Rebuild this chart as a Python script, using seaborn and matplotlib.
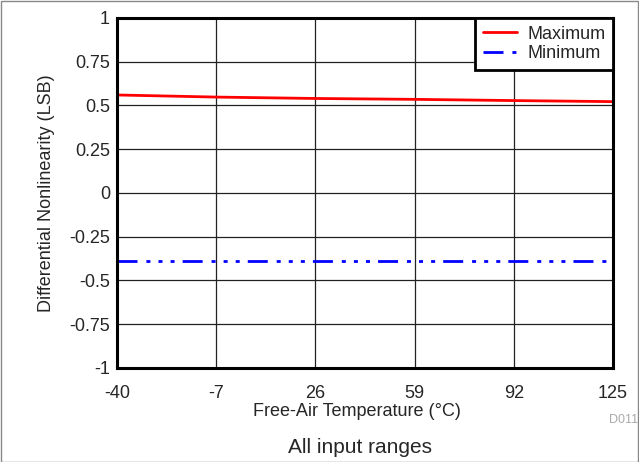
import numpy as np
import pandas as pd
import matplotlib
matplotlib.use('Agg')
import matplotlib.pyplot as plt
import seaborn as sns

# Data
temperature = [-40, -7, 26, 59, 92, 125]
dnl_max = [0.560, 0.548, 0.540, 0.535, 0.528, 0.522]
dnl_min = [-0.390, -0.390, -0.390, -0.390, -0.390, -0.390]
x_ticks = [-40, -7, 26, 59, 92, 125]
y_ticks = [-1, -0.75, -0.5, -0.25, 0, 0.25, 0.5, 0.75, 1]
y_labels = ['-1', '-0.75', '-0.5', '-0.25', '0', '0.25', '0.5', '0.75', '1']

df = pd.DataFrame({'Temperature': temperature, 'Maximum': dnl_max, 'Minimum': dnl_min})

sns.set_style('white')
plt.rcParams['font.family'] = ['Liberation Sans', 'DejaVu Sans']

fig = plt.figure(figsize=(6.39, 4.62), dpi=100)
ax = fig.add_axes([0.1831, 0.2035, 0.7762, 0.7576])

sns.lineplot(data=df, x='Temperature', y='Maximum', ax=ax, color='#ff0000',
             linewidth=2, label='Maximum')
sns.lineplot(data=df, x='Temperature', y='Minimum', ax=ax, color='#0000ff',
             linewidth=2, label='Minimum')
ax.lines[1].set_dashes([7.2, 3.2, 1.45, 2.9, 1.45, 2.9, 1.45, 2.9])

ax.set_xlim(-40, 125)
ax.set_ylim(-1, 1)
ax.set_xticks(x_ticks)
ax.set_xticklabels([str(t) for t in x_ticks])
ax.set_yticks(y_ticks)
ax.set_yticklabels(y_labels)
ax.tick_params(labelsize=13, length=0)
ax.tick_params(axis='x', pad=12.5)
ax.tick_params(axis='y', pad=5)
ax.grid(True, color='#222222', linewidth=0.9)
for s in ax.spines.values():
    s.set_linewidth(2.2)
    s.set_color('black')

ax.set_xlabel('Free-Air Temperature (°C)', fontsize=13)
ax.xaxis.set_label_coords(0.484, -0.1)
ax.set_ylabel('Differential Nonlinearity (LSB)', fontsize=13)
ax.yaxis.set_label_coords(-0.125, 0.5)

leg = ax.legend(loc='upper right', fontsize=13, frameon=True, fancybox=False,
                borderaxespad=0, handlelength=1.9, borderpad=0.42,
                labelspacing=0.15, handletextpad=0.55)
leg.get_frame().set_edgecolor('black')
leg.get_frame().set_linewidth(2)
leg.get_frame().set_alpha(1)

fig.text(0.998, 0.091, 'D011', fontsize=9, color='#aaaaaa', ha='right', va='center')
fig.text(0.564, 0.02, 'All input ranges', fontsize=15, ha='center')

fig.patches.append(plt.Rectangle((0.001, 0.001), 0.997, 0.997, transform=fig.transFigure,
                                 fill=False, edgecolor='#888888', linewidth=1))

fig.savefig('out.png', dpi=100)
